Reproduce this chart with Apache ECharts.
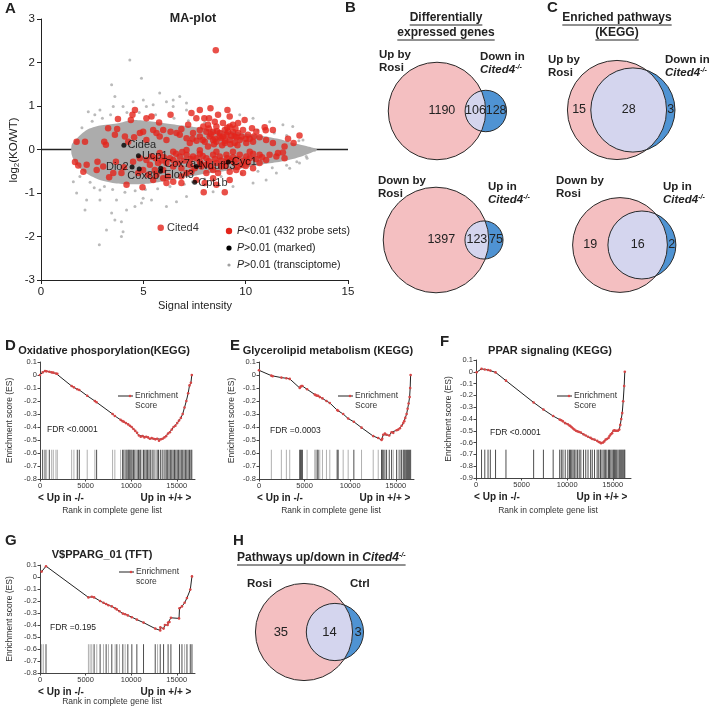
<!DOCTYPE html>
<html><head><meta charset="utf-8">
<script src="https://cdn.jsdelivr.net/npm/echarts@6/dist/echarts.min.js"></script>
<style>html,body{margin:0;padding:0;background:#fff}#c{width:709px;height:709px}</style>
</head><body><div id="c"></div><script>
// ================= DATA =================
// Panel A: MA-plot
const maRed = [
[8.54,2.28],[4.59,0.91],[4.47,0.80],[3.76,0.70],[3.72,0.47],[3.28,0.49],[4.39,0.68],[5.15,0.72],[5.40,0.76],[5.77,0.62],[6.33,0.80],[7.35,0.84],[7.59,0.72],[8.28,0.95],[7.76,0.91],[7.98,0.72],[8.65,0.80],[9.11,0.91],[8.21,0.72],[9.22,0.76],[9.63,0.61],[9.95,0.68],[10.93,0.51],[11.33,0.45],[10.98,0.44],[12.07,0.25],[12.63,0.32],[12.34,0.15],[10.31,0.49],[10.52,0.41],[10.11,0.34],[10.68,0.28],[10.36,0.18],[11.0,0.22],[11.33,0.15],[11.9,0.07],[7.19,0.57],[6.86,0.47],[6.62,0.38],[6.33,0.41],[5.97,0.45],[5.64,0.38],[5.48,0.45],[4.99,0.41],[4.83,0.38],[4.55,0.28],[4.10,0.30],[3.61,0.34],[3.09,0.18],[3.17,0.11],[1.74,0.18],[4.26,0.18],[5.15,0.22],[5.80,0.30],[6.13,0.22],[6.78,0.34],[7.11,0.26],[7.43,0.38],[7.76,0.45],[7.93,0.53],[8.08,0.41],[8.24,0.30],[8.41,0.41],[8.57,0.53],[8.73,0.38],[8.81,0.26],[8.98,0.45],[9.06,0.34],[9.22,0.22],[9.38,0.41],[9.46,0.30],[9.63,0.38],[9.71,0.22],[9.87,0.45],[9.22,0.53],[8.89,0.61],[8.49,0.64],[8.16,0.57],[9.38,0.57],[7.76,0.30],[7.27,0.15],[8.0,0.18],[8.57,0.18],[8.98,0.15],[9.46,0.15],[10.03,0.15],[8.73,0.30],[9.14,0.41],[8.41,0.22],[8.16,0.07],[2.15,0.18],
[8.3,0.35],[8.5,0.25],[8.9,0.3],[9.0,0.2],[9.3,0.32],[9.55,0.28],[9.8,0.3],[10.0,0.25],[8.6,0.42],[8.2,0.48],[9.1,0.5],[9.5,0.48],[8.45,0.12],[8.85,0.1],[9.25,0.12],[9.6,0.1],[10.2,0.25],[10.4,0.3],[7.9,0.22],[7.6,0.2],[7.4,0.25],
[1.66,-0.29],[1.82,-0.37],[2.07,-0.51],[2.76,-0.28],[3.33,-0.64],[4.18,-0.81],[4.96,-0.87],[4.05,-0.41],[3.66,-0.28],[5.15,-0.24],[5.32,-0.35],[5.56,-0.47],[5.64,-0.58],[5.97,-0.66],[6.21,-0.62],[6.46,-0.74],[6.86,-0.77],[6.86,-0.62],[7.11,-0.54],[7.35,-0.51],[7.95,-0.98],[8.98,-0.98],[8.08,-0.54],[8.41,-0.66],[8.65,-0.54],[9.22,-0.51],[9.54,-0.47],[9.87,-0.54],[10.36,-0.43],[10.68,-0.31],[11.0,-0.24],[11.17,-0.12],[11.5,-0.16],[11.9,-0.20],[6.78,-0.16],[6.46,-0.24],[6.13,-0.31],[7.11,-0.12],[7.43,-0.16],[7.76,-0.10],[8.08,-0.20],[8.41,-0.12],[8.73,-0.16],[9.06,-0.12],[9.38,-0.18],[9.71,-0.12],[10.03,-0.16],[10.36,-0.10],[10.68,-0.12],[7.76,-0.28],[8.08,-0.35],[8.57,-0.31],[8.81,-0.39],[9.06,-0.28],[9.46,-0.31],[9.79,-0.35],[10.11,-0.30],[7.27,-0.35],[6.86,-0.43],[6.46,-0.39],[5.97,-0.47],[5.72,-0.31],[5.40,-0.16],[4.83,-0.20],[4.50,-0.28],[4.75,-0.54],[4.99,-0.47],[5.24,-0.58],[5.48,-0.70],[6.13,-0.77],[3.93,-0.54],[3.53,-0.54],[3.04,-0.39],[2.23,-0.35],[2.72,-0.47],[7.59,-0.70],[8.0,-0.77],[9.22,-0.70],[8.57,-0.81],[11.58,-0.08],[11.82,-0.07],[10.2,-0.05],[9.38,-0.05],[8.57,-0.05],[7.76,-0.02],[7.11,-0.01],[6.46,-0.05],[5.8,-0.08],[7.84,-0.39],[8.41,-0.47],[7.51,-0.43],
[6.7,-0.3],[7.0,-0.25],[7.3,-0.22],[7.6,-0.2],[7.9,-0.15],[8.2,-0.27],[8.5,-0.22],[8.8,-0.25],[9.1,-0.2],[9.3,-0.25],[9.6,-0.22],[9.9,-0.25],[10.2,-0.2],[10.5,-0.22],[6.3,-0.2],[6.0,-0.18],[7.8,-0.33],[8.3,-0.4],[9.0,-0.38],[9.6,-0.4],[10.0,-0.38],[10.8,-0.18],[6.6,-0.1],[6.9,-0.06],[5.6,-0.2],[5.9,-0.25]
];
const maGrey = [
[4.34,2.06],[4.91,1.64],[3.45,1.49],[3.61,1.22],[6.78,1.22],[5.80,1.30],[4.50,1.10],[4.01,0.99],[2.88,0.91],[2.31,0.87],[2.63,0.80],[5.15,0.99],[6.46,0.99],[7.11,1.07],[3.53,0.99],[5.0,1.14],[5.48,1.03],[6.13,1.10],[6.46,1.14],
[2.15,-1.39],[2.23,-1.16],[2.88,-1.16],[3.45,-1.46],[3.61,-1.62],[3.93,-1.66],[4.01,-1.89],[3.93,-2.0],[2.85,-2.19],[3.2,-1.85],[4.18,-1.39],[4.59,-1.31],[4.91,-1.23],[5.40,-1.16],[6.13,-1.31],[6.62,-1.20],[7.11,-1.08],[2.88,-0.93],[1.74,-1.0],[1.58,-0.74],[3.69,-1.16],[4.99,-1.12],[8.41,-0.97],[9.38,-0.85],[10.36,-0.77],[11.0,-0.70],[11.5,-0.54],[12.15,-0.43],[12.63,-0.31],
[12.3,0.53],[11.82,0.57],[11.17,0.64],[10.36,0.72],[9.71,0.80],[7.11,0.91],[13.12,0.03],[13.37,-0.02],[12.96,-0.16],[12.8,0.22],
[2.0,0.5],[2.5,0.65],[3.0,0.72],[3.4,0.8],[4.2,0.85],[4.8,0.85],[5.6,0.8],[6.5,0.72],[7.2,0.66],[8.0,0.62],[10.6,0.45],[11.4,0.38],[12.0,0.32],[12.6,0.2],
[1.9,-0.62],[2.4,-0.75],[2.6,-0.88],[3.1,-0.85],[3.5,-0.92],[4.1,-0.98],[4.6,-0.95],[5.1,-0.92],[5.7,-0.9],[6.3,-0.85],[7.0,-0.8],[7.4,-0.74],[8.0,-0.68],[8.8,-0.62],[9.8,-0.55],[10.6,-0.5],[11.3,-0.42],[12.0,-0.36],[12.5,-0.28],[13.0,-0.2]
];
const maCloudTop = [[1.5,0.11],[1.74,0.25],[2.23,0.45],[2.88,0.55],[3.69,0.6],[4.5,0.68],[5.32,0.65],[6.13,0.6],[6.94,0.55],[7.76,0.5],[8.57,0.45],[9.38,0.42],[10.2,0.35],[11.0,0.3],[11.82,0.22],[12.3,0.15],[12.8,0.1],[13.28,0.04],[13.5,0.0]];
const maCloudBottom = [[1.5,-0.12],[1.74,-0.35],[2.23,-0.55],[2.88,-0.7],[3.69,-0.78],[4.5,-0.8],[5.32,-0.78],[6.13,-0.72],[6.94,-0.65],[7.76,-0.58],[8.57,-0.52],[9.38,-0.47],[10.2,-0.4],[11.0,-0.33],[11.82,-0.27],[12.3,-0.22],[12.8,-0.15],[13.28,-0.06],[13.5,0.0]];
const maMarkedNames = ['Cidea','Ucp1','Dio2','Cox8b','Cox7a1','Elovl3','Ndufb3','Cyc1','Cpt1b'];
const maMarkedValues = [[4.05,0.10],[4.76,-0.145],[4.45,-0.40],[4.80,-0.45],[5.85,-0.43],[5.84,-0.50],[7.59,-0.39],[9.15,-0.29],[7.51,-0.75]];
const maCited4 = [5.85,-1.80];

// Panels B, C, H: Venn counts [only left, overlap, only right]
const vennB_up = [1190, 106, 128];
const vennB_down = [1397, 123, 75];
const vennC_up = [15, 28, 3];
const vennC_down = [19, 16, 2];
const vennH = [35, 14, 3];

// Panels D-G: GSEA running enrichment score [rank, ES] and hit ranks
const gseaD_curve = [[0,0.0],[290,0.02],[550,0.03],[730,0.028],[1020,0.025],[1280,0.02],[1460,0.018],[1750,0.012],[1900,0.01],[3470,-0.085],[3720,-0.095],[4090,-0.11],[4310,-0.115],[5180,-0.16],[6020,-0.2],[6210,-0.21],[7960,-0.3],[8210,-0.315],[8840,-0.345],[9060,-0.355],[9200,-0.36],[9420,-0.37],[9670,-0.38],[9860,-0.39],[10050,-0.4],[10250,-0.415],[10450,-0.43],[10650,-0.445],[10850,-0.465],[11050,-0.475],[11250,-0.47],[11450,-0.48],[11650,-0.475],[11850,-0.48],[12050,-0.49],[12250,-0.485],[12450,-0.49],[12650,-0.495],[12850,-0.49],[13050,-0.505],[13250,-0.495],[13450,-0.49],[13650,-0.48],[13850,-0.47],[14050,-0.45],[14250,-0.44],[14450,-0.42],[14650,-0.4],[14850,-0.39],[15050,-0.37],[15250,-0.35],[15450,-0.33],[15650,-0.3],[15850,-0.25],[16050,-0.2],[16250,-0.14],[16400,-0.08],[16550,-0.06],[16650,0.0]];
const gseaD_hitsDark = [290,550,1020,4090,4310,6210,9060,9200,9420,9540,9670,9760,9860,9980,10100,10250,10400,10650,10800,10950,11050,11350,11500,11650,11800,11950,12100,12300,12500,12850,13000,13200,13400,13700,13850,14000,14150,14300,14450,14600,14750,14900,15050,15200,15350,15500,15650,15800,15950,16100,16250,16400,16550,16650];
const gseaD_hitsLight = [730,1280,1460,1750,1900,3470,3720,5180,6020,7960,8210,8840,9300,10500,11200,12700,13550];
const gseaE_curve = [[0,0.036],[1355,-0.005],[1500,-0.01],[2454,-0.02],[3004,-0.025],[3370,-0.03],[4469,-0.1],[4542,-0.09],[4652,-0.085],[4762,-0.085],[5275,-0.11],[6117,-0.15],[6227,-0.155],[6374,-0.16],[6484,-0.16],[6667,-0.17],[6960,-0.18],[7399,-0.2],[7766,-0.215],[8571,-0.27],[8681,-0.275],[9231,-0.3],[9780,-0.335],[10403,-0.36],[11245,-0.405],[12527,-0.47],[13077,-0.485],[13443,-0.5],[13516,-0.49],[13626,-0.46],[13810,-0.45],[13993,-0.46],[14286,-0.465],[14542,-0.44],[14725,-0.445],[15092,-0.425],[15275,-0.42],[15458,-0.41],[15641,-0.39],[15824,-0.37],[15934,-0.355],[16044,-0.33],[16190,-0.3],[16300,-0.26],[16410,-0.22],[16520,-0.17],[16580,-0.1],[16630,0.0]];
const gseaE_hitsDark = [4469,4542,4652,4762,6374,6484,8571,8681,10403,13443,13516,13626,13810,13993,14286,14542,15092,15458,15641,15824,15934,16044,16190,16300,16410,16520,16630];
const gseaE_hitsLight = [1355,2454,3004,3370,5275,6117,6227,6667,6960,7399,7766,9231,9780,11245,12527,13077,14725,15275];
const gseaF_curve = [[70,-0.004],[607,0.025],[964,0.02],[1321,0.015],[1571,0.01],[2143,-0.005],[3286,-0.075],[6321,-0.26],[7393,-0.32],[8464,-0.375],[9179,-0.405],[9357,-0.41],[9536,-0.42],[9786,-0.435],[10071,-0.445],[10250,-0.455],[10357,-0.46],[10500,-0.47],[10643,-0.48],[10786,-0.49],[10964,-0.5],[11143,-0.505],[11321,-0.51],[11500,-0.515],[11786,-0.53],[12036,-0.54],[12286,-0.55],[12571,-0.56],[12750,-0.57],[13000,-0.575],[13286,-0.585],[13464,-0.595],[13643,-0.6],[13714,-0.605],[13929,-0.6],[14071,-0.59],[14214,-0.575],[14357,-0.57],[14536,-0.56],[14643,-0.545],[14786,-0.53],[14929,-0.52],[15071,-0.5],[15179,-0.495],[15286,-0.5],[15429,-0.5],[15571,-0.5],[15714,-0.49],[15821,-0.45],[15929,-0.4],[16036,-0.35],[16143,-0.25],[16250,-0.12],[16321,0.0]];
const gseaF_hitsDark = [607,964,1321,1571,2143,3286,6321,7393,8464,9179,9357,9536,9786,10071,10250,10357,10500,10643,10786,10964,11143,11321,11500,11786,12036,12286,12571,12750,13000,13286,13464,13643,13714,13929,14071,14214,14357,14536,14643,14786,14929,15071,15179,15286,15429,15571,15714,15821,15929,16036,16143,16250,16321];
const gseaF_hitsLight = [];
const gseaG_curve = [[183,0.045],[659,0.09],[5311,-0.17],[5678,-0.165],[5934,-0.17],[6593,-0.2],[6960,-0.215],[7253,-0.225],[7509,-0.235],[7875,-0.245],[8242,-0.26],[8425,-0.27],[8718,-0.285],[9084,-0.305],[9341,-0.31],[9634,-0.32],[10073,-0.335],[10623,-0.355],[11355,-0.38],[12637,-0.43],[13187,-0.445],[13200,-0.42],[13553,-0.43],[13700,-0.40],[14000,-0.40],[14050,-0.38],[14200,-0.375],[14359,-0.34],[15250,-0.345],[15300,-0.26],[15568,-0.245],[15861,-0.215],[16117,-0.175],[16484,-0.105],[16667,0.005]];
const gseaG_hitsDark = [659,5934,6593,7253,7875,8425,9084,9634,10073,10623,11355,12637,13187,13553,14050,14359,15300,15568,16117,16484,16667];
const gseaG_hitsLight = [183,366,5311,5495,5678,6227,6960,7509,8242,8718,9341,12894,15861];

// ================= CHART =================
const FF = '"Liberation Sans", Arial, Helvetica, sans-serif';
const chart = echarts.init(document.getElementById('c'), null, {renderer:'canvas'});
const grids = [], xAxes = [], yAxes = [], series = [], graphics = [];
const INK = '#222';
const mctx = document.createElement('canvas').getContext('2d');
function tw(text, size, weight, style) { mctx.font = (style||'normal') + ' ' + (weight||'normal') + ' ' + size + 'px ' + FF; return mctx.measureText(text).width; }

function txt(x, y, text, o) {
  o = o || {};
  graphics.push({type:'text', x:x, y:y, rotation:o.rot||0, silent:true, z:50,
    style:{text:text, fill:o.color||INK, fontSize:o.size||11, fontWeight:o.bold?'bold':'normal',
      fontStyle:o.italic?'italic':'normal', fontFamily:FF, align:o.align||'left',
      verticalAlign:o.va||'middle', lineHeight:o.lh, rich:o.rich}});
}
function hline(x1, x2, y, w, color) {
  graphics.push({type:'line', silent:true, z:50, shape:{x1:x1, y1:y, x2:x2, y2:y}, style:{stroke:color||INK, lineWidth:w||1}});
}
function dot(x, y, r, color) {
  graphics.push({type:'circle', silent:true, z:50, shape:{cx:x, cy:y, r:r}, style:{fill:color}});
}
function addGrid(g) { g.outerBoundsMode = 'none'; g.containLabel = false; grids.push(g); }

const axisCommon = {
  axisLine:{show:true, onZero:false, lineStyle:{color:INK, width:1}},
  axisTick:{show:true, inside:false, length:4, lineStyle:{color:INK, width:1}},
  splitLine:{show:false}
};

// ---------- Panel A ----------
addGrid({left:41, top:19, width:307, height:261});
xAxes.push(Object.assign({gridIndex:0, type:'value', min:0, max:15, interval:5,
  axisLabel:{fontSize:11.5, color:INK, margin:6, fontFamily:FF}}, axisCommon));
yAxes.push(Object.assign({gridIndex:0, type:'value', min:-3, max:3, interval:1,
  axisLabel:{fontSize:11.5, color:INK, margin:6, fontFamily:FF}}, axisCommon));
series.push({type:'line', xAxisIndex:0, yAxisIndex:0, data:[[0,0],[15,0]], symbol:'none', silent:true, z:1,
  lineStyle:{color:INK, width:1.3}});
series.push({type:'custom', xAxisIndex:0, yAxisIndex:0, data:[[0,0]], silent:true, z:2,
  encode:{x:0, y:1},
  renderItem:function(params, api){
    const pts = maCloudTop.concat(maCloudBottom.slice().reverse()).map(function(p){return api.coord(p);});
    return {type:'polygon', shape:{points:pts, smooth:0.25}, style:{fill:'#acacac'}};
  }});
series.push({type:'scatter', xAxisIndex:0, yAxisIndex:0, data:maGrey, symbolSize:3, silent:true, z:3,
  itemStyle:{color:'#a9a9a9'}});
series.push({type:'scatter', xAxisIndex:0, yAxisIndex:0, data:maRed, symbolSize:6.5, silent:true, z:4,
  itemStyle:{color:'#e3241b'}});
const maLabelStyle = {
  Cidea:{position:'right', offset:[-2,0]}, Ucp1:{position:'right', offset:[-2,0]}, Dio2:{position:'left', offset:[2,0]},
  Cox8b:{position:'bottom', offset:[4,-4]}, Cox7a1:{position:'right', offset:[-2,-4]}, Elovl3:{position:'right', offset:[-2,4]},
  Ndufb3:{position:'right', offset:[-2,0]}, Cyc1:{position:'right', offset:[-2,0]}, Cpt1b:{position:'right', offset:[-2,1]}
};
series.push({type:'scatter', xAxisIndex:0, yAxisIndex:0, silent:true, z:5, symbolSize:5,
  itemStyle:{color:'#000'},
  data:maMarkedNames.map(function(n,i){ return {name:n, value:maMarkedValues[i],
    label:Object.assign({show:true, formatter:'{b}', color:'#000', fontSize:11, fontFamily:FF, distance:3}, maLabelStyle[n])}; })});
series.push({type:'scatter', xAxisIndex:0, yAxisIndex:0, silent:true, z:5, symbolSize:6.5,
  itemStyle:{color:'#e3241b'},
  data:[{name:'Cited4', value:maCited4, label:{show:true, position:'right', formatter:'{b}', color:'#000', fontSize:11, fontFamily:FF, distance:3}}]});
txt(5, 9, 'A', {bold:true, size:15});
txt(193, 19, 'MA-plot', {bold:true, size:12.5, align:'center'});
txt(14, 150, '{t|log}{s|2}{t|(KO/WT)}', {rot:Math.PI/2, align:'center', rich:{t:{fontSize:11.5, fontFamily:FF, fill:INK}, s:{fontSize:8, fontFamily:FF, fill:INK, verticalAlign:'bottom', padding:[6,0,0,0]}}});
txt(195, 306, 'Signal intensity', {size:11, align:'center'});
const legRich = {i:{fontStyle:'italic', fontSize:10.5, fontFamily:FF, fill:INK}, n:{fontSize:10.5, fontFamily:FF, fill:INK}};
dot(229, 231, 3.2, '#e3241b'); txt(237, 231, '{i|P}{n|<0.01 (432 probe sets)}', {rich:legRich});
dot(229, 248, 2.6, '#000'); txt(237, 248, '{i|P}{n|>0.01 (marked)}', {rich:legRich});
dot(229, 265, 1.6, '#a0a0a0'); txt(237, 265, '{i|P}{n|>0.01 (transciptome)}', {rich:legRich});

// ---------- Venn panels ----------
function lensArea(R, r, d) {
  if (d >= R + r) return 0;
  if (d <= Math.abs(R - r)) return Math.PI * Math.min(R, r) * Math.min(R, r);
  const a = r*r*Math.acos((d*d + r*r - R*R)/(2*d*r));
  const b = R*R*Math.acos((d*d + R*R - r*r)/(2*d*R));
  const c = 0.5*Math.sqrt((-d+r+R)*(d+r-R)*(d-r+R)*(d+r+R));
  return a + b - c;
}
function solveD(R, r, target) {
  let lo = Math.abs(R - r) + 1e-9, hi = R + r;
  for (let i = 0; i < 80; i++) { const m = (lo + hi)/2; if (lensArea(R, r, m) > target) lo = m; else hi = m; }
  return (lo + hi)/2;
}
const PINK = '#f4bfc1', BLUE = '#4f93d3', LAV = '#d4d5ee';
function addVenn(counts, cx, cy, scale, numSize) {
  const gi = grids.length, W = 60, H = 60;
  addGrid({left:cx - W/2, top:cy - H/2, width:W, height:H});
  xAxes.push({gridIndex:gi, type:'value', show:false, min:-W/2/scale, max:W/2/scale});
  yAxes.push({gridIndex:gi, type:'value', show:false, min:-H/2/scale, max:H/2/scale});
  series.push({type:'custom', xAxisIndex:gi, yAxisIndex:gi, data:[[0,0]], encode:{x:0,y:1}, silent:true, z:10, clip:false,
    renderItem:function(params, api){
      const R = Math.sqrt((counts[0] + counts[1])/Math.PI);
      const r = Math.sqrt((counts[2] + counts[1])/Math.PI);
      const d = solveD(R, r, counts[1]);
      const c0 = api.coord([0,0]), c1 = api.coord([d,0]);
      const Rp = api.size([R,0])[0], rp = api.size([r,0])[0];
      const xi = (d*d + R*R - r*r)/(2*d);
      const h = Math.sqrt(Math.max(0, R*R - xi*xi));
      const t1 = Math.atan2(h, xi), ph = Math.atan2(h, xi - d);
      const pts = [], N = 90;
      for (let i = 0; i <= N; i++) { const a = -t1 + 2*t1*i/N; pts.push(api.coord([R*Math.cos(a), R*Math.sin(a)])); }
      for (let i = 0; i <= N; i++) { const a = ph + (2*Math.PI - 2*ph)*i/N; pts.push(api.coord([d + r*Math.cos(a), r*Math.sin(a)])); }
      const lensLeft = d - r;
      const leftX = lensLeft > 0.5*R ? 0.1*R : (-R + lensLeft)/2;
      const nums = [[leftX, counts[0]], [(lensLeft + R)/2, counts[1]], [(R + d + r)/2, counts[2]]];
      const kids = [
        {type:'circle', shape:{cx:c0[0], cy:c0[1], r:Rp}, style:{fill:PINK}},
        {type:'circle', shape:{cx:c1[0], cy:c1[1], r:rp}, style:{fill:BLUE}},
        {type:'polygon', shape:{points:pts}, style:{fill:LAV}},
        {type:'circle', shape:{cx:c0[0], cy:c0[1], r:Rp}, style:{fill:'none', stroke:'#2a2a2a', lineWidth:1}},
        {type:'circle', shape:{cx:c1[0], cy:c1[1], r:rp}, style:{fill:'none', stroke:'#2a2a2a', lineWidth:1}}
      ];
      nums.forEach(function(n){ const p = api.coord([n[0], 0]);
        kids.push({type:'text', style:{text:String(n[1]), x:p[0], y:p[1], align:'center', verticalAlign:'middle', fontSize:numSize, fontFamily:FF, fill:INK}}); });
      return {type:'group', children:kids};
    }});
}
addVenn(vennB_up, 437, 111, 2.4, 12.5);
addVenn(vennB_down, 436, 240, 2.4, 12.5);
addVenn(vennC_up, 617, 110, 13.4, 12.5);
addVenn(vennC_down, 620, 245, 14.2, 12.5);
addVenn(vennH, 304, 632, 12.3, 13);

const citedRich = {i:{fontSize:11.5, fontWeight:'bold', fontStyle:'italic', fontFamily:FF, fill:INK},
                   s:{fontSize:7, fontWeight:'bold', fontStyle:'italic', fontFamily:FF, fill:INK, verticalAlign:'top'}};
function vennLabel(x, y, line1, line2rich) {
  txt(x, y, line1, {bold:true, size:11.5});
  txt(x, y + 13, line2rich, {bold:true, size:11.5, rich:citedRich});
}
vennLabel(379, 55, 'Up by', 'Rosi');
vennLabel(480, 57, 'Down in', '{i|Cited4}{s|-/-}');
vennLabel(378, 181, 'Down by', 'Rosi');
vennLabel(488, 187, 'Up in', '{i|Cited4}{s|-/-}');
vennLabel(548, 60, 'Up by', 'Rosi');
vennLabel(665, 60, 'Down in', '{i|Cited4}{s|-/-}');
vennLabel(556, 181, 'Down by', 'Rosi');
vennLabel(663, 187, 'Up in', '{i|Cited4}{s|-/-}');
txt(247, 584, 'Rosi', {bold:true, size:11.5});
txt(350, 584, 'Ctrl', {bold:true, size:11.5});

function titleU(cx, y, text) {
  txt(cx, y, text, {bold:true, size:12, align:'center'});
  const w = tw(text, 12, 'bold');
  hline(cx - w/2, cx + w/2, y + 7, 1);
}
txt(345, 8, 'B', {bold:true, size:15});
txt(547, 8, 'C', {bold:true, size:15});
titleU(446, 18, 'Differentially');
titleU(446, 33, 'expressed genes');
titleU(617, 18, 'Enriched pathways');
titleU(617, 33, '(KEGG)');
txt(233, 541, 'H', {bold:true, size:15});
(function(){
  const x = 237, y = 558;
  txt(x, y, '{b|Pathways up/down in }{i|Cited4}{s|-/-}', {rich:{b:{fontSize:12, fontWeight:'bold', fontFamily:FF, fill:INK},
    i:{fontSize:12, fontWeight:'bold', fontStyle:'italic', fontFamily:FF, fill:INK},
    s:{fontSize:7, fontWeight:'bold', fontStyle:'italic', fontFamily:FF, fill:INK, verticalAlign:'top'}}});
  const w = tw('Pathways up/down in ', 12, 'bold') + tw('Cited4', 12, 'bold', 'italic') + tw('-/-', 7, 'bold', 'italic');
  hline(x, x + w, y + 7, 1);
})();

// ---------- GSEA panels ----------
function addGsea(cfg) {
  const gi = grids.length;
  addGrid({left:cfg.left, top:cfg.top, width:155, height:cfg.height});
  xAxes.push({gridIndex:gi, type:'value', min:0, max:17000, interval:5000,
    axisLine:{show:true, onZero:false, lineStyle:{color:'#444', width:1}},
    axisTick:{show:true, length:2.5, lineStyle:{color:'#444'}},
    splitLine:{show:false},
    axisLabel:{fontSize:7.5, color:'#333', margin:3, fontFamily:FF, showMaxLabel:false,
      formatter:function(v){ return v % 5000 === 0 ? String(v) : ''; }}});
  yAxes.push({gridIndex:gi, type:'value', min:cfg.ymin, max:0.1, interval:0.1,
    axisLine:{show:true, onZero:false, lineStyle:{color:'#444', width:1}},
    axisTick:{show:true, length:2.5, lineStyle:{color:'#444'}},
    splitLine:{show:false},
    axisLabel:{fontSize:7.5, color:'#333', margin:3, fontFamily:FF,
      formatter:function(v){ const r = Math.round(v*10)/10; return r === 0 ? '0' : String(r); }}});
  const hits = cfg.dark.map(function(r){return [r,1];}).concat(cfg.light.map(function(r){return [r,0];}));
  series.push({type:'custom', xAxisIndex:gi, yAxisIndex:gi, data:hits, encode:{x:0, y:1}, silent:true, z:3,
    renderItem:function(params, api){
      const rk = api.value(0), sh = api.value(1);
      const p1 = api.coord([rk, cfg.hitTop]), p2 = api.coord([rk, cfg.ymin]);
      return {type:'line', shape:{x1:p1[0], y1:p1[1], x2:p2[0], y2:p2[1]}, style:{stroke: sh ? '#3a3a3a' : '#a8a8a8', lineWidth:0.9}};
    }});
  series.push({type:'line', xAxisIndex:gi, yAxisIndex:gi, data:cfg.curve, silent:true, z:4,
    symbol:'circle', symbolSize:2.6, showSymbol:true,
    itemStyle:{color:'#d64545'}, lineStyle:{color:'#222', width:1}});
  const L = cfg.left, T = cfg.top, B = cfg.top + cfg.height;
  txt(cfg.letterX, cfg.letterY, cfg.letter, {bold:true, size:15});
  txt(L + cfg.titleDx, cfg.titleY, cfg.title, {bold:true, size:11, align:'center'});
  txt(cfg.ynameX, T + cfg.height/2, 'Enrichment score (ES)', {size:8.5, align:'center', rot:Math.PI/2, color:'#333'});
  txt(L + 21, B + 19, '< Up in -/-', {bold:true, size:10, align:'center'});
  txt(L + 126, B + 19, 'Up in +/+ >', {bold:true, size:10, align:'center'});
  txt(L + 72, B + cfg.rankDy, 'Rank in complete gene list', {size:8.5, align:'center', color:'#333'});
  const lx = L + cfg.legDx, ly = cfg.legY;
  graphics.push({type:'line', silent:true, z:50, shape:{x1:lx, y1:ly, x2:lx + 15, y2:ly}, style:{stroke:'#222', lineWidth:1}});
  dot(lx + 12, ly, 1.3, '#d64545');
  txt(lx + 17, ly, cfg.legText[0], {size:8.5, color:'#333'});
  txt(lx + 17, ly + 10, cfg.legText[1], {size:8.5, color:'#333'});
  txt(L + cfg.fdrDx, cfg.fdrY, cfg.fdr, {size:8.5, color:'#222'});
}
addGsea({left:40, top:362, height:117, ymin:-0.8, hitTop:-0.575, curve:gseaD_curve, dark:gseaD_hitsDark, light:gseaD_hitsLight,
  letter:'D', letterX:5, letterY:346, title:'Oxidative phosporylation(KEGG)', titleDx:64, titleY:351, ynameX:10, rankDy:32,
  legDx:78, legY:396, legText:['Enrichment','Score'], fdrDx:7, fdrY:430, fdr:'FDR <0.0001'});
addGsea({left:259, top:362, height:117, ymin:-0.8, hitTop:-0.575, curve:gseaE_curve, dark:gseaE_hitsDark, light:gseaE_hitsLight,
  letter:'E', letterX:230, letterY:346, title:'Glycerolipid metabolism (KEGG)', titleDx:69, titleY:351, ynameX:232, rankDy:32,
  legDx:79, legY:396, legText:['Enrichment','Score'], fdrDx:11, fdrY:431, fdr:'FDR =0.0003'});
addGsea({left:476, top:360, height:118, ymin:-0.9, hitTop:-0.66, curve:gseaF_curve, dark:gseaF_hitsDark, light:gseaF_hitsLight,
  letter:'F', letterX:440, letterY:342, title:'PPAR signaling (KEGG)', titleDx:74, titleY:351, ynameX:449, rankDy:33,
  legDx:81, legY:396, legText:['Enrichment','Score'], fdrDx:14, fdrY:433, fdr:'FDR <0.0001'});
addGsea({left:40, top:565, height:108, ymin:-0.8, hitTop:-0.56, curve:gseaG_curve, dark:gseaG_hitsDark, light:gseaG_hitsLight,
  letter:'G', letterX:5, letterY:541, title:'V$PPARG_01 (TFT)', titleDx:62, titleY:555, ynameX:10, rankDy:29,
  legDx:79, legY:572, legText:['Enrichment','score'], fdrDx:10, fdrY:628, fdr:'FDR =0.195'});

chart.setOption({
  animation:false,
  backgroundColor:'#fff',
  textStyle:{fontFamily:FF},
  grid:grids, xAxis:xAxes, yAxis:yAxes, series:series,
  graphic:{elements:graphics}
});
</script></body></html>
